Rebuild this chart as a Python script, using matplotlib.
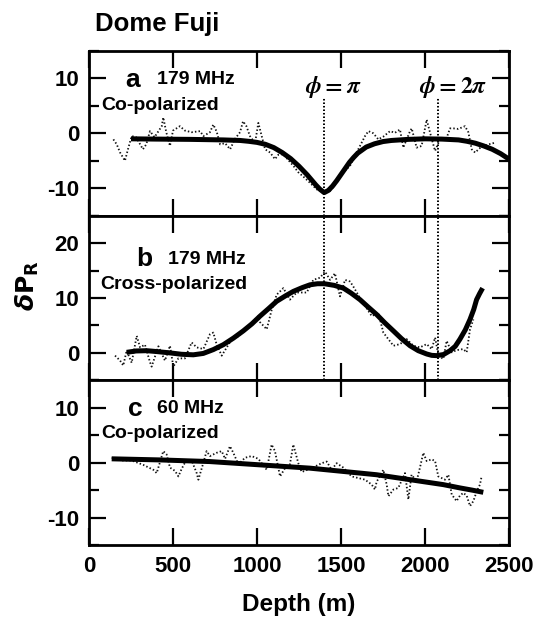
import matplotlib
matplotlib.use("Agg")
import matplotlib.pyplot as plt
from matplotlib.ticker import MultipleLocator

plt.rcParams['font.family'] = ['Liberation Sans', 'DejaVu Sans']
plt.rcParams['font.weight'] = 'bold'
plt.rcParams['axes.unicode_minus'] = False

# ---------------- data ----------------
# Panel a: 179 MHz co-polarized
a_depth = [145, 165, 185, 214, 232, 254, 280, 321, 341, 363, 390, 433, 442, 460, 482, 500,
           541, 571, 611, 661, 681, 720, 740, 760, 780, 810, 840, 869, 899, 917, 937, 958,
           988, 1008, 1028, 1048, 1078, 1107, 1127, 1157, 1190, 1216, 1246, 1280, 1315, 1355,
           1395, 1435, 1474, 1514, 1554, 1583, 1613, 1643, 1663, 1693, 1722, 1752, 1792,
           1821, 1851, 1871, 1911, 1921, 1950, 1980, 2010, 2020, 2040, 2060, 2090, 2129,
           2149, 2169, 2198, 2238, 2258, 2278, 2298, 2330, 2380, 2417]
a_vals = [-1.1, -2.0, -3.5, -5.0, -2.9, -0.5, -0.7, -2.9, -2.0, 0.4, -0.7, 1.3, 2.9, 0.2, -2.3, 0.5,
          1.3, 0.5, 0.2, 0.4, -0.5, 0.2, 1.6, 0.3, -2.0, -1.8, -2.9, -1.0, 0.2, 2.2, 1.3, -0.5,
          -1.8, 1.9, -0.5, -2.9, -3.5, -4.7, -3.9, -3.8, -5.0, -5.9, -7.1, -8.0, -9.0, -10.2,
          -10.8, -10.5, -9.0, -7.1, -5.9, -4.1, -2.3, -0.5, 0.4, 0.0, -1.1, -0.6, 0.4,
          0.1, 0.7, -2.6, 0.4, 0.9, -2.6, -2.3, 2.5, 1.3, -1.0, -3.2, -1.0, -0.8,
          0.9, 0.9, 0.8, 1.3, 0.2, -2.9, -3.5, -2.6, -2.0, -1.7]
a_fit_depth = [250, 400, 600, 800, 900, 950, 1000, 1050, 1100, 1150, 1200, 1250, 1300, 1325,
               1350, 1375, 1400, 1425, 1450, 1475, 1500, 1525, 1550, 1575, 1600, 1650, 1700,
               1750, 1800, 1900, 2000, 2100, 2200, 2250, 2300, 2350, 2400, 2450, 2500]
a_fit_vals = [-1.0, -1.05, -1.1, -1.2, -1.3, -1.45, -1.65, -2.0, -2.6, -3.5, -4.6, -6.0, -7.6, -8.5,
              -9.4, -10.2, -10.8, -10.4, -9.6, -8.6, -7.5, -6.4, -5.3, -4.4, -3.6, -2.5, -1.9,
              -1.5, -1.3, -1.1, -1.0, -1.05, -1.2, -1.45, -1.8, -2.3, -2.9, -3.7, -4.7]

# Panel b: 179 MHz cross-polarized
b_depth = [155, 185, 204, 224, 254, 284, 304, 333, 363, 373, 413, 452, 482, 502, 532, 571,
           611, 641, 681, 720, 740, 760, 790, 850, 889, 948, 1008, 1018, 1058, 1087, 1117,
           1157, 1196, 1236, 1296, 1335, 1375, 1405, 1435, 1464, 1494, 1524, 1554, 1573,
           1613, 1683, 1722, 1752, 1782, 1812, 1851, 1891, 1931, 1970, 2010, 2040, 2060,
           2080, 2109, 2129, 2159, 2188, 2228, 2248, 2268, 2288]
b_vals = [-0.5, -1.4, -2.3, 0.4, -1.8, 3.1, 1.0, 1.5, -1.7, -2.5, 1.2, -1.4, 1.3, -2.5, -1.0, -1.0,
          1.9, 1.0, 0.7, 3.4, 3.7, 1.5, -0.5, 2.5, 3.0, 4.9, 6.7, 5.6, 4.3, 7.8, 10.6,
          11.8, 9.7, 11.0, 11.0, 13.3, 13.7, 14.8, 13.3, 14.5, 10.3, 13.3, 13.0, 12.1,
          10.0, 6.7, 7.3, 3.7, 2.5, 1.3, 1.6, 2.5, 1.3, 1.0, 1.6, 0.7, 2.8,
          -0.5, -1.1, 2.2, 0.1, 0.5, 0.7, 0.1, 4.3, 6.1]
b_fit_depth = [224, 280, 343, 400, 482, 550, 621, 680, 740, 800, 860, 918, 970, 1018, 1070,
               1117, 1170, 1216, 1270, 1315, 1360, 1401, 1460, 1514, 1560, 1613, 1660, 1712,
               1760, 1812, 1860, 1911, 1960, 2010, 2040, 2069, 2110, 2149, 2180, 2208, 2240,
               2268, 2290, 2307, 2325, 2343]
b_fit_vals = [0.1, 0.35, 0.4, 0.25, 0.0, -0.25, -0.35, -0.1, 0.6, 1.5, 2.7, 4.0, 5.3, 6.7, 8.1,
              9.4, 10.4, 11.2, 11.9, 12.4, 12.6, 12.6, 12.3, 11.8, 10.9, 9.7, 8.4, 7.0,
              5.5, 4.0, 2.6, 1.3, 0.4, -0.2, -0.45, -0.5, -0.3, 0.4, 1.2, 2.5, 4.2,
              6.1, 7.9, 9.7, 10.8, 11.8]

# Panel c: 60 MHz co-polarized
c_depth = [135, 195, 254, 323, 383, 403, 442, 462, 482, 512, 532, 552, 571, 611, 641, 651, 681,
           700, 720, 760, 790, 810, 839, 859, 889, 929, 968, 1008, 1058, 1087, 1107, 1137,
           1167, 1196, 1216, 1246, 1266, 1325, 1385, 1415, 1444, 1474, 1514, 1563, 1603,
           1643, 1683, 1702, 1712, 1752, 1772, 1782, 1812, 1841, 1881, 1901, 1920, 1950,
           1970, 1990, 2010, 2040, 2060, 2079, 2119, 2139, 2159, 2188, 2208, 2228, 2248,
           2268, 2288, 2308, 2327, 2337]
c_vals = [0.9, 0.4, 0.4, -0.4, -1.3, -1.9, 2.1, 1.5, -0.9, -1.5, -2.5, -1.1, 0.0, 0.4, -1.9, -3.1, 0.0,
          2.1, 1.2, 1.8, 2.1, 0.7, 3.0, 1.8, -0.3, 0.9, 1.2, 0.7, -1.3, 3.3, 2.1, -2.5,
          -1.0, -0.3, 3.3, -0.1, -1.7, -1.0, -0.1, 0.2, -1.3, -0.1, -0.9, -2.5, -2.8,
          -3.1, -4.0, -4.9, -3.5, -1.3, -4.0, -6.1, -4.9, -4.6, -1.9, -6.7, -2.2, -3.4,
          -0.9, 1.8, 0.3, 0.6, 0.3, -2.5, -3.1, -2.2, -5.8, -7.0, -6.0, -5.5, -6.0,
          -7.9, -7.0, -5.2, -4.0, -2.5]
c_fit_depth = [135, 423, 720, 1018, 1315, 1514, 1712, 1911, 2010, 2109, 2208, 2280, 2347]
c_fit_vals = [0.7, 0.5, 0.2, -0.4, -1.0, -1.6, -2.2, -3.1, -3.55, -4.0, -4.6, -5.0, -5.4]

phase_depths = [1400, 2075]
phase_labels = [r'$\phi = \pi$', r'$\phi = 2\pi$']

panel_letters = ['a', 'b', 'c']
panel_freqs = ['179 MHz', '179 MHz', '60 MHz']
panel_pols = ['Co-polarized', 'Cross-polarized', 'Co-polarized']
ylims = [(-15, 15), (-5, 25), (-15, 15)]
yticks = [[-10, 0, 10], [0, 10, 20], [-10, 0, 10]]
xticks = [0, 500, 1000, 1500, 2000, 2500]

# ---------------- figure ----------------
W, H = 536, 622
fig = plt.figure(figsize=(W / 100, H / 100), dpi=100)

left_px, right_px = 89, 509
top_px, bot_px = 51, 545
ph = (bot_px - top_px) / 3

axes = []
for i in range(3):
    t = top_px + i * ph
    ax = fig.add_axes([left_px / W, 1 - (t + ph) / H, (right_px - left_px) / W, ph / H])
    axes.append(ax)

series = [(a_depth, a_vals, a_fit_depth, a_fit_vals),
          (b_depth, b_vals, b_fit_depth, b_fit_vals),
          (c_depth, c_vals, c_fit_depth, c_fit_vals)]

label_pos = [
    # (letter x, letter y, freq x, pol x, pol y)
    (214, 9.8, 405, 71, 5.1),
    (284, 17.1, 472, 65, 12.4),
    (234, 9.8, 403, 70, 5.4),
]

for i, ax in enumerate(axes):
    d, v, fd, fv = series[i]
    ax.plot(d, v, color='#111111', lw=1.3, linestyle=(0, (0.8, 1.2)), zorder=2)
    ax.plot(fd, fv, color='black', lw=3.6, solid_capstyle='butt', solid_joinstyle='round', zorder=3)
    ax.set_xlim(0, 2500)
    ax.set_ylim(*ylims[i])
    ax.set_yticks(yticks[i])
    ax.yaxis.set_minor_locator(MultipleLocator(5))
    ax.set_xticks(xticks)
    ax.tick_params(axis='both', which='major', direction='in', length=12.5, width=1.6,
                   top=True, right=True, labelsize=16, pad=7)
    ax.tick_params(axis='both', which='minor', direction='in', length=7.5, width=1.6,
                   top=True, right=True)
    ax.tick_params(axis='x', pad=8)
    for s in ax.spines.values():
        s.set_linewidth(2.0)
    if i < 2:
        ax.tick_params(axis='x', labelbottom=False)
    for lab in ax.get_xticklabels() + ax.get_yticklabels():
        lab.set_fontweight('bold')
    lx, ly, fx, px_, py = label_pos[i]
    ax.text(lx, ly, panel_letters[i], fontsize=19, fontweight='bold', va='center', ha='left')
    ax.text(fx, ly, panel_freqs[i], fontsize=14, fontweight='bold', va='center', ha='left')
    ax.text(px_, py, panel_pols[i], fontsize=14, fontweight='bold', va='center', ha='left')

# phase lines across panels a and b
for pdx, plab in zip(phase_depths, phase_labels):
    axes[0].vlines(pdx, -15, 6.5, colors='black', lw=1.4, linestyles=(0, (0.8, 1.0)), zorder=4)
    axes[1].vlines(pdx, -5, 25, colors='black', lw=1.4, linestyles=(0, (0.8, 1.0)), zorder=4)
    axes[0].text(pdx - 113, 8.5, plab, fontsize=17, ha='left', va='center',
                 math_fontfamily='stix', fontweight='normal')

fig.text(95 / W, 1 - 24 / H, 'Dome Fuji', fontsize=18.5, fontweight='bold', ha='left', va='center')
fig.text(27 / W, 1 - 286 / H, r'$\delta\mathbf{P}_{\mathrm{R}}$', fontsize=18, rotation=90,
         ha='center', va='center', math_fontfamily='dejavusans', fontweight='normal')
fig.text(299 / W, 1 - 604 / H, 'Depth (m)', fontsize=17.5, fontweight='bold', ha='center', va='center')

fig.savefig('out.png', dpi=100)
